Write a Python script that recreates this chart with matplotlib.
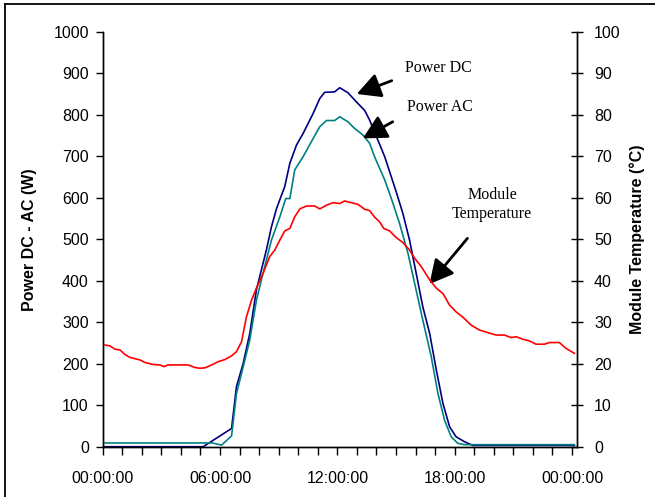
import matplotlib
matplotlib.use("Agg")
import matplotlib.pyplot as plt
from matplotlib.lines import Line2D

# time of day in hours
dc_hours = [0.12, 5.14, 5.8, 6.59, 6.84, 7.18, 7.52, 7.86, 8.37, 8.63, 8.89, 9.31,
            9.57, 9.91, 10.25, 10.76, 11.1, 11.35, 11.86, 12.12, 12.54, 12.97, 13.4,
            13.65, 14.0, 14.42, 14.67, 15.01, 15.35, 15.69, 16.03, 16.37, 16.72,
            17.06, 17.4, 17.74, 18.07, 18.5, 18.93, 24.12]
power_dc = [0, 0, 20, 44, 145, 200, 273, 378, 474, 530, 574, 627,
            683, 727, 755, 803, 839, 854, 855, 865, 853, 831, 810,
            787, 747, 699, 663, 614, 562, 498, 418, 337, 273,
            185, 104, 48, 24, 12, 3, 3]

ac_hours = [0.12, 5.6, 6.08, 6.59, 6.84, 7.27, 7.52, 7.86, 8.2, 8.63, 9.06, 9.36,
            9.57, 9.82, 10.25, 10.67, 11.1, 11.44, 11.86, 12.12, 12.54, 12.88, 13.31,
            13.65, 13.9, 14.42, 14.76, 15.18, 15.61, 15.95, 16.37, 16.8, 17.14,
            17.48, 17.82, 18.16, 18.5, 24.12]
power_ac = [9, 9, 4, 26, 128, 209, 257, 353, 418, 498, 554, 598,
            598, 667, 699, 735, 771, 786, 786, 795, 783, 767, 751,
            731, 699, 643, 598, 538, 466, 394, 305, 217, 129,
            64, 24, 8, 5, 5]

temp_hours = [0.12, 0.37, 0.63, 0.89, 1.14, 1.4, 1.91, 2.16, 2.59, 2.93, 3.13, 3.35,
              4.37, 4.71, 4.97, 5.23, 5.57, 5.91, 6.25, 6.59, 6.84, 7.1, 7.35, 7.61,
              7.86, 8.2, 8.54, 8.8, 9.06, 9.31, 9.57, 9.82, 10.08, 10.42, 10.84, 11.1,
              11.44, 11.78, 12.12, 12.37, 12.63, 13.05, 13.4, 13.65, 13.91, 14.16,
              14.37, 14.67, 15.01, 15.35, 15.69, 15.95, 16.29, 16.72, 17.06, 17.4,
              17.74, 18.07, 18.42, 18.84, 19.27, 19.69, 20.12, 20.54, 20.89, 21.14,
              21.48, 21.82, 22.16, 22.59, 22.84, 23.35, 23.69, 24.12]
module_temp = [24.5, 24.3, 23.5, 23.3, 22.2, 21.5, 20.9, 20.3, 19.8, 19.7, 19.3, 19.7,
               19.7, 19.1, 18.9, 19.0, 19.7, 20.5, 21.0, 21.9, 22.9, 25.3, 31.3, 35.3,
               38.2, 41.8, 45.8, 47.4, 49.8, 52.0, 52.6, 55.4, 57.3, 58.0, 58.0, 57.3,
               58.2, 58.8, 58.6, 59.2, 58.9, 58.4, 57.2, 56.9, 55.3, 54.2,
               52.6, 52.0, 50.4, 49.2, 47.4, 45.4, 43.4, 40.2, 38.2, 36.9,
               34.1, 32.5, 31.2, 29.3, 28.1, 27.5, 26.9, 26.9, 26.3, 26.5,
               25.9, 25.5, 24.7, 24.7, 25.1, 25.1, 23.7, 22.5]

tick_hours = [0, 6, 12, 18, 24]
tick_labels = ["00:00:00", "06:00:00", "12:00:00", "18:00:00", "00:00:00"]

plt.rcParams['font.family'] = ['Liberation Sans', 'DejaVu Sans']

fig = plt.figure(figsize=(6.55, 4.97), dpi=100)
ax = fig.add_axes([0.1568, 0.1012, 0.7237, 0.835])
ax2 = ax.twinx()

ax.plot(dc_hours, power_dc, color='#000080', lw=1.2)
ax.plot(ac_hours, power_ac, color='#008080', lw=1.2)
ax2.plot(temp_hours, module_temp, color='#ff0000', lw=1.2)

ax.set_xlim(0, 24.24)
ax.set_ylim(0, 1000)
ax2.set_ylim(0, 100)
ax.set_yticks(range(0, 1001, 100))
ax2.set_yticks(range(0, 101, 10))
ax.set_xticks(tick_hours)
ax.set_xticklabels(tick_labels)
ax.set_xticks(range(0, 25), minor=True)

for a in (ax, ax2):
    a.spines['top'].set_visible(False)
    for s in a.spines.values():
        s.set_linewidth(1.0)
        s.set_color('black')

ax.tick_params(axis='x', which='both', direction='out', length=5.5, width=1, labelsize=11.5, pad=12)
ax.tick_params(axis='y', direction='out', length=5, width=1, labelsize=11.5, pad=5)
ax2.tick_params(axis='y', direction='inout', length=9, width=1, labelsize=11.5, pad=8)

ax.set_ylabel('Power DC - AC (W)', fontsize=11.5, fontweight='bold')
ax2.set_ylabel('Module Temperature (\u00b0C)', fontsize=11.5, fontweight='bold')
ax.yaxis.set_label_coords(-0.138, 0.5)
ax2.yaxis.set_label_coords(1.112, 0.5)

arrow = dict(arrowstyle='-|>,head_length=0.8,head_width=0.42', color='black',
             lw=2.0, mutation_scale=18, shrinkA=0, shrinkB=0)
serif = ['Liberation Serif', 'DejaVu Serif']
ax.annotate('', xy=(12.99, 850), xytext=(14.78, 882), arrowprops=arrow)
ax.annotate('', xy=(13.3, 743), xytext=(14.83, 783), arrowprops=arrow)
ax.annotate('', xy=(16.71, 392), xytext=(18.65, 502), arrowprops=arrow)
ax.text(17.15, 913, 'Power DC', family=serif, fontsize=11.5, ha='center', va='center')
ax.text(17.25, 819, 'Power AC', family=serif, fontsize=11.5, ha='center', va='center')
ax.text(19.92, 583, 'Module\nTemperature', family=serif, fontsize=11.5, ha='center',
        va='center', linespacing=1.25)

# outer frame of the original picture (left and top edges only)
fig.add_artist(Line2D([5 / 655, 5 / 655], [0, 1 - 4 / 497], transform=fig.transFigure, color='black', lw=1.3))
fig.add_artist(Line2D([5 / 655, 1], [1 - 4 / 497, 1 - 4 / 497], transform=fig.transFigure, color='black', lw=1.3))

fig.savefig('out.png', dpi=100)
